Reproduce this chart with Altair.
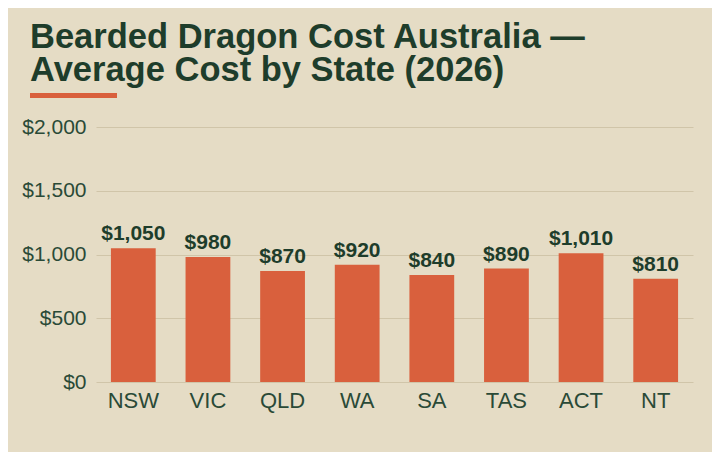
import altair as alt
import pandas as pd

states = ["NSW", "VIC", "QLD", "WA", "SA", "TAS", "ACT", "NT"]
costs = [1050, 980, 870, 920, 840, 890, 1010, 810]
labels = ["$1,050", "$980", "$870", "$920", "$840", "$890", "$1,010", "$810"]
y_ticks = [0, 500, 1000, 1500, 2000]

df = pd.DataFrame({"state": states, "cost": costs, "label": labels})

BG = "#E5DCC5"
BAR = "#D9603D"
DARK = "#1E3D2B"
AXIS_TXT = "#2A4A37"
GRID = "#D0C5A9"
FONT = "Liberation Sans"

x = alt.X("state:N", sort=states, title=None,
          scale=alt.Scale(paddingInner=0.4, paddingOuter=0.2),
          axis=alt.Axis(labelAngle=0, labelFontSize=22, labelColor=AXIS_TXT,
                        labelFont=FONT, labelPadding=8, ticks=False, domain=False,
                        grid=False))
y = alt.Y("cost:Q", title=None,
          scale=alt.Scale(domain=[0, 2000]),
          axis=alt.Axis(values=y_ticks, labelExpr="'$' + format(datum.value, ',')",
                        labelFontSize=21, labelColor=AXIS_TXT, labelFont=FONT,
                        labelPadding=10, ticks=False, domain=False,
                        gridColor=GRID, gridWidth=1))

bars = alt.Chart(df).mark_bar(color=BAR).encode(x=x, y=y)

text = alt.Chart(df).mark_text(
    font=FONT, fontSize=21, fontWeight="bold", color=DARK,
    baseline="alphabetic", dy=-8
).encode(x=alt.X("state:N", sort=states), y="cost:Q", text="label:N")

accent = alt.Chart(df).mark_rule(color=BAR, strokeWidth=4.5, clip=False).encode(
    x=alt.value(-66), x2=alt.value(21), y=alt.value(-31.5)
)

chart = alt.layer(bars, text, accent).properties(
    width=597,
    height=255,
    padding={"left": 88, "top": 119, "right": 19, "bottom": 70},
    autosize=alt.AutoSizeParams(type="none"),
    background=BG,
    title=alt.TitleParams(
        text=["Bearded Dragon Cost Australia —", "Average Cost by State (2026)"],
        anchor="start", frame="group", dx=-66, offset=-29,
        font=FONT, fontSize=34.5, fontWeight="bold", color=DARK,
        lineHeight=33, baseline="bottom",
    ),
).configure_view(stroke=None)

chart.save("out.html", embed_options={"renderer": "svg", "actions": False})
